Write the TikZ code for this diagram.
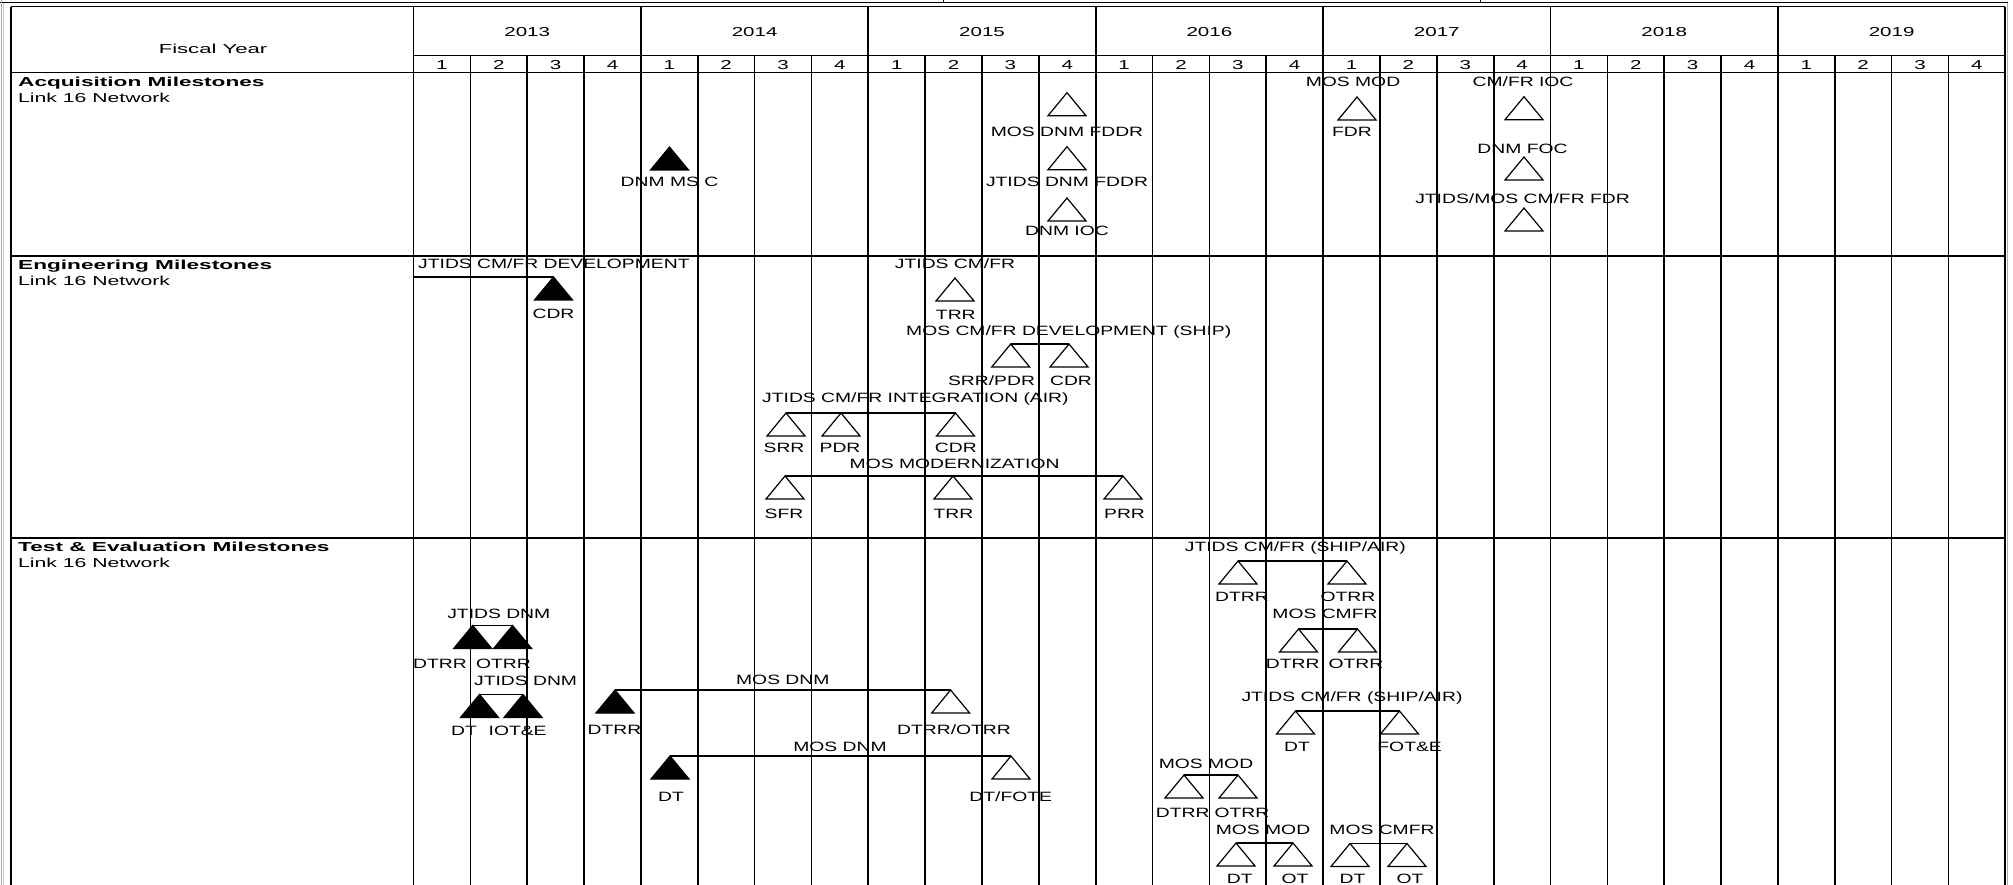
\documentclass[tikz,border=0pt]{standalone}
\usepackage{fontspec}
\setmainfont{Liberation Sans}
\usepackage{graphicx}
\newcommand{\cl}[1]{\scalebox{1.43}[1]{#1}}
\newcommand{\hl}[1]{\scalebox{1.58}[1]{#1}}
\newcommand{\sidel}[1]{\scalebox{1.63}[1]{#1}}
\newcommand{\fyl}[1]{\scalebox{1.7}[1]{#1}}
\newcommand{\titl}[1]{\scalebox{1.74}[1]{#1}}
\begin{document}
\begin{tikzpicture}[x=1pt,y=-1pt,
  gridline/.style={line width=1.7pt,black},
  hrule/.style={line width=1.3pt,black},
  bar/.style={line width=1.8pt,black},
  mstone/.style={rectangle,minimum width=38pt,minimum height=23pt,inner sep=0pt,outer sep=0pt},
  opentri/.style={fill=white,draw=black,line width=1.2pt},
  filltri/.style={fill=black,draw=black,line width=1.2pt},
  lab/.style={inner sep=0pt,anchor=base,yshift=-4.8pt,font=\fontsize{13.5}{15}\selectfont},
  hdr/.style={inner sep=0pt,anchor=base,yshift=-4.6pt,font=\fontsize{13}{15}\selectfont},
  side/.style={inner sep=0pt,anchor=base west,yshift=-4.6pt,font=\fontsize{13}{15}\selectfont},
]
\useasboundingbox (0,0) rectangle (2013,885);
% outer frame
\draw[line width=1pt,black] (0,2.7) -- (2008,2.7);
\draw[line width=1pt,gray!70] (1,0) -- (1,885);
\draw[line width=0.8pt,gray!45] (3.2,2.7) -- (3.2,885);
\draw[line width=0.8pt,gray!60] (2007.5,2.7) -- (2007.5,885);
\draw[line width=1pt,black] (943,0) -- (943,2.7);
\draw[line width=1pt,black] (1480,0) -- (1480,2.7);
% table
\draw[hrule] (11,6.7) -- (2005.3,6.7);
\draw[gridline] (11,6.7) -- (11,885);
\draw[hrule] (413.5,55.7) -- (2005.3,55.7);
\draw[hrule] (11,72.6) -- (2005.3,72.6);
\draw[hrule] (11,256) -- (2005.3,256);
\draw[hrule] (11,538) -- (2005.3,538);
\foreach \k in {0,...,28}{
  \pgfmathsetmacro\xx{413.5+56.85*\k}
  \pgfmathtruncatemacro\m{mod(\k,4)}
  \ifnum\m=0 \draw[gridline] (\xx,6.7) -- (\xx,885);
  \else \draw[gridline] (\xx,55.7) -- (\xx,885); \fi
}
% header texts
\node[hdr] (fy) at (213,48.5) {\fyl{Fiscal Year}};
\foreach \i/\yr in {0/2013,1/2014,2/2015,3/2016,4/2017,5/2018,6/2019}
  \node[hdr] (yr\i) at ({413.5+56.85*(4*\i+2)},32) {\hl{\yr}};
\foreach \k in {0,...,27}{
  \pgfmathtruncatemacro\q{mod(\k,4)+1}
  \node[hdr] (q\k) at ({413.5+56.85*(\k+0.5)},65) {\hl{\q}};
}
% side titles
\node[side,font=\fontsize{13}{15}\selectfont\bfseries] (acq) at (18,81.7) {\titl{Acquisition Milestones}};
\node[side] (acqs) at (18,97.8) {\sidel{Link 16 Network}};
\node[side,font=\fontsize{13}{15}\selectfont\bfseries] (eng) at (18,264.7) {\titl{Engineering Milestones}};
\node[side] (engs) at (18,281) {\sidel{Link 16 Network}};
\node[side,font=\fontsize{13}{15}\selectfont\bfseries] (tst) at (18,546.7) {\titl{Test \& Evaluation Milestones}};
\node[side] (tsts) at (18,563) {\sidel{Link 16 Network}};

% ---------------- Acquisition ----------------
\node[mstone] (a1) at (669.5,158.5) {};
\node[lab] (la1) at (669.5,181.7) {\cl{DNM MS C}};
\node[mstone] (a2) at (1067,104.2) {};
\node[lab] (la2) at (1067,131.7) {\cl{MOS DNM FDDR}};
\node[mstone] (a3) at (1067,158.2) {};
\node[lab] (la3) at (1067,181.7) {\cl{JTIDS DNM FDDR}};
\node[mstone] (a4) at (1067,209.5) {};
\node[lab] (la4) at (1067,230.7) {\cl{DNM IOC}};
\node[lab] (la5t) at (1353,81.7) {\cl{MOS MOD}};
\node[mstone] (a5) at (1357,108.5) {};
\node[lab] (la5) at (1352,131.7) {\cl{FDR}};
\node[lab] (la6) at (1523,81.7) {\cl{CM/FR IOC}};
\node[mstone] (a6) at (1524,108.2) {};
\node[lab] (la7) at (1522.5,148.3) {\cl{DNM FOC}};
\node[mstone] (a7) at (1524,168.5) {};
\node[lab] (la8) at (1522.5,198.3) {\cl{JTIDS/MOS CM/FR FDR}};
\node[mstone] (a8) at (1524,219.5) {};

% ---------------- Engineering ----------------
\node[lab,anchor=base west] (le0) at (418,264) {\cl{JTIDS CM/FR DEVELOPMENT}};
\coordinate (e0) at (413.5,277);
\node[mstone] (e1) at (553.5,288.5) {};
\node[lab] (le1) at (553.5,314) {\cl{CDR}};
\node[lab] (le2t) at (955,264) {\cl{JTIDS CM/FR}};
\node[mstone] (e2) at (955,289.5) {};
\node[lab] (le2) at (955.8,315) {\cl{TRR}};
\node[lab] (le3t) at (1068.7,330.7) {\cl{MOS CM/FR DEVELOPMENT (SHIP)}};
\node[mstone] (e3a) at (1010.7,355.5) {};
\node[mstone] (e3b) at (1069,355.5) {};
\node[lab] (le3a) at (991.5,380.7) {\cl{SRR/PDR}};
\node[lab] (le3b) at (1071,380.7) {\cl{CDR}};
\node[lab] (le4t) at (915.4,397.3) {\cl{JTIDS CM/FR INTEGRATION (AIR)}};
\node[mstone] (e4a) at (786,424.5) {};
\node[mstone] (e4b) at (841,424.5) {};
\node[mstone] (e4c) at (955.5,424.5) {};
\node[lab] (le4a) at (784,447.3) {\cl{SRR}};
\node[lab] (le4b) at (840,447.3) {\cl{PDR}};
\node[lab] (le4c) at (955.8,447.3) {\cl{CDR}};
\node[lab] (le5t) at (954.6,464) {\cl{MOS MODERNIZATION}};
\node[mstone] (e5a) at (785,487.5) {};
\node[mstone] (e5b) at (953,487.5) {};
\node[mstone] (e5c) at (1123,487.5) {};
\node[lab] (le5a) at (784,514) {\cl{SFR}};
\node[lab] (le5b) at (953.5,514) {\cl{TRR}};
\node[lab] (le5c) at (1124.5,514) {\cl{PRR}};

% ---------------- Test & Evaluation ----------------
\node[lab] (lt1t) at (1295.3,546.7) {\cl{JTIDS CM/FR (SHIP/AIR)}};
\node[mstone] (t1a) at (1238,572.5) {};
\node[mstone] (t1b) at (1347,572.5) {};
\node[lab] (lt1a) at (1242,596.7) {\cl{DTRR}};
\node[lab] (lt1b) at (1348,596.7) {\cl{OTRR}};
\node[lab] (lt2t) at (1325,613.3) {\cl{MOS CMFR}};
\node[mstone] (t2a) at (1298.5,640.5) {};
\node[mstone] (t2b) at (1357.5,640.5) {};
\node[lab] (lt2a) at (1292.7,663.3) {\cl{DTRR}};
\node[lab] (lt2b) at (1356,663.3) {\cl{OTRR}};
\node[lab] (lt3t) at (1352,696.7) {\cl{JTIDS CM/FR (SHIP/AIR)}};
\node[mstone] (t3a) at (1295.5,722.5) {};
\node[mstone] (t3b) at (1399.5,722.5) {};
\node[lab] (lt3a) at (1297,746.7) {\cl{DT}};
\node[lab] (lt3b) at (1409.6,746.7) {\cl{FOT\&E}};
\node[lab] (lt4t) at (1206,763.3) {\cl{MOS MOD}};
\node[mstone] (t4a) at (1184,786.5) {};
\node[mstone] (t4b) at (1238,786.5) {};
\node[lab] (lt4a) at (1182.7,812.7) {\cl{DTRR}};
\node[lab] (lt4b) at (1242,812.7) {\cl{OTRR}};
\node[lab] (lt5t) at (1263,829.3) {\cl{MOS MOD}};
\node[mstone] (t5a) at (1236,854.5) {};
\node[mstone] (t5b) at (1293,854.5) {};
\node[lab] (lt5a) at (1239.7,878.3) {\cl{DT}};
\node[lab] (lt5b) at (1295,878.3) {\cl{OT}};
\node[lab] (lt6t) at (1382,829.3) {\cl{MOS CMFR}};
\node[mstone] (t6a) at (1350,855) {};
\node[mstone] (t6b) at (1407,855) {};
\node[lab] (lt6a) at (1352.5,878.3) {\cl{DT}};
\node[lab] (lt6b) at (1410,878.3) {\cl{OT}};
\node[lab] (lt7t) at (498.8,614) {\cl{JTIDS DNM}};
\node[mstone] (t7a) at (472.7,637) {};
\node[mstone] (t7b) at (512.6,637) {};
\node[lab] (lt7a) at (440,664) {\cl{DTRR}};
\node[lab] (lt7b) at (503.5,664) {\cl{OTRR}};
\node[lab] (lt8t) at (525.6,680.7) {\cl{JTIDS DNM}};
\node[mstone] (t8a) at (479.5,706) {};
\node[mstone] (t8b) at (523,706) {};
\node[lab] (lt8a) at (464,730.7) {\cl{DT}};
\node[lab] (lt8b) at (517.6,730.7) {\cl{IOT\&E}};
\node[lab] (lt9t) at (782.8,680) {\cl{MOS DNM}};
\node[mstone] (t9a) at (615,701.5) {};
\node[mstone] (t9b) at (950.6,701.5) {};
\node[lab] (lt9a) at (614.5,730) {\cl{DTRR}};
\node[lab] (lt9b) at (954,730) {\cl{DTRR/OTRR}};
\node[lab] (lt10t) at (840,746.7) {\cl{MOS DNM}};
\node[mstone] (t10a) at (670,767.5) {};
\node[mstone] (t10b) at (1011,767.5) {};
\node[lab] (lt10a) at (671,796.5) {\cl{DT}};
\node[lab] (lt10b) at (1010.7,796.5) {\cl{DT/FOTE}};

% bars
\draw[bar] (e0) -- (e1.north);
\foreach \p/\q in {e3a/e3b,e4a/e4c,e5a/e5c,t1a/t1b,t2a/t2b,t3a/t3b,t4a/t4b,t5a/t5b,t6a/t6b,t7a/t7b,t8a/t8b,t9a/t9b,t10a/t10b}
  \draw[bar] (\p.north) -- (\q.north);

% triangles
\foreach \n in {a2,a3,a4,a5,a6,a7,a8,e2,e3a,e3b,e4a,e4b,e4c,e5a,e5b,e5c,t1a,t1b,t2a,t2b,t3a,t3b,t4a,t4b,t5a,t5b,t6a,t6b,t9b,t10b}
  \draw[opentri] (\n.north) -- (\n.south east) -- (\n.south west) -- cycle;
\foreach \n in {a1,e1,t7a,t7b,t8a,t8b,t9a,t10a}
  \draw[filltri] (\n.north) -- (\n.south east) -- (\n.south west) -- cycle;
\end{tikzpicture}
\end{document}
